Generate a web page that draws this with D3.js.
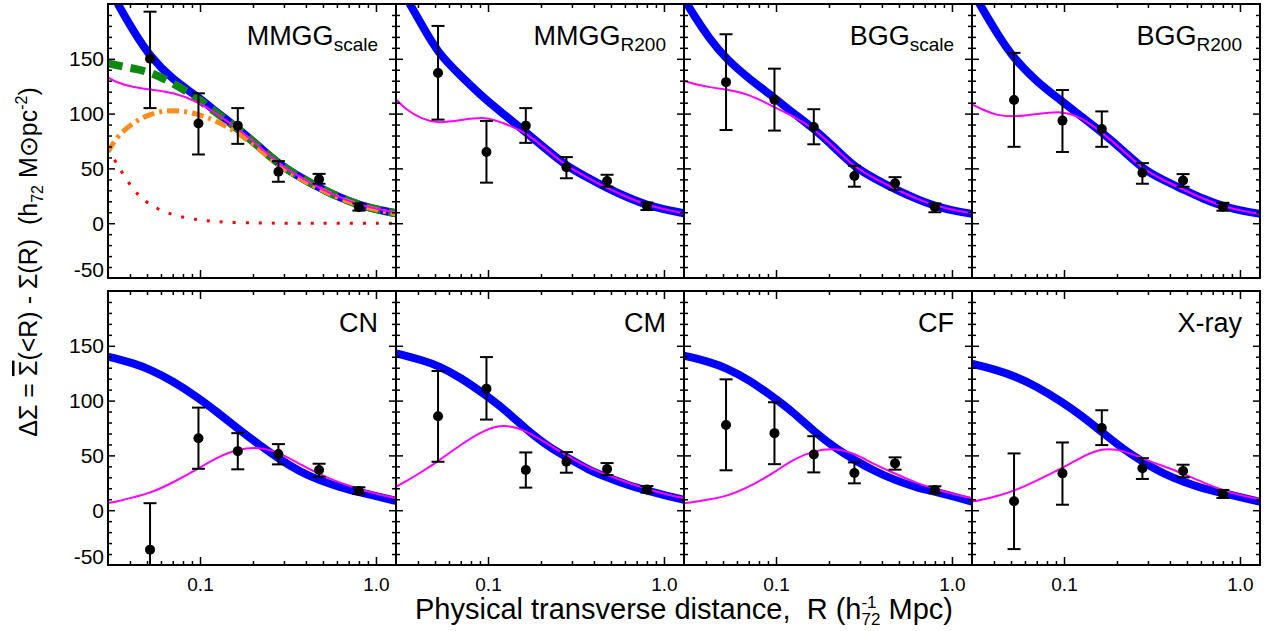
<!DOCTYPE html>
<html><head><meta charset="utf-8">
<script src="https://cdn.jsdelivr.net/npm/d3@7"></script>
<style>
body{margin:0;background:#fff}
svg{display:block}
text{font-family:"Liberation Sans",Arial,Helvetica,sans-serif;fill:#000}
</style>
</head><body>
<svg id="chart" width="1273" height="631"></svg>
<script>
// ---------------- data ----------------
const panelNames = ["MMGG","MMGG","BGG","BGG","CN","CM","CF","X-ray"];
const panelSubs  = ["scale","R200","scale","R200","","","",""];

// radii of the measured points (h72^-1 Mpc)
const obsRadius = [0.052, 0.098, 0.164, 0.279, 0.475, 0.80];
// measured Delta Sigma per panel
const obsValue = [
  [150, 91, 89, 47, 40, 14.5],
  [137, 65, 89, 51, 38.5, 15.7],
  [128.7, 112.7, 87.8, 43, 36.4, 14.5],
  [112.4, 93.6, 86, 46, 39, 15],
  [-36, 65.7, 53.9, 51.2, 36.6, 17.5],
  [85.7, 110.9, 36.6, 44.2, 37.5, 19],
  [77.8, 70.3, 50.9, 33.9, 42.7, 18.5],
  [8.2, 33.6, 75, 38.2, 35.7, 14.8]
];
const obsHigh = [
  [193, 118.5, 105, 56.6, 45, 18],
  [180, 93.3, 105, 60.3, 44.2, 18.8],
  [172.4, 141, 104, 52.4, 42, 18],
  [155.4, 121.5, 102, 54.8, 44.8, 18.6],
  [6.4, 93.6, 70.3, 60.3, 42.4, 20.9],
  [127, 139.7, 52.7, 53, 43, 22],
  [119.4, 98.5, 67.5, 43.6, 48.2, 21.8],
  [51.8, 61.8, 91.2, 47.5, 41.5, 18.5]
];
const obsLow = [
  [105, 62.7, 72.4, 37.8, 36, 11.5],
  [94.5, 37, 73.3, 41, 33.3, 12],
  [85, 84.5, 72, 33.3, 30.5, 10],
  [69.7, 65, 69.7, 36, 33.3, 11.4],
  [-78, 37.8, 37.3, 41.8, 30.6, 14.8],
  [44.2, 82.7, 20.6, 34.2, 32, 16],
  [36.4, 42, 34.5, 24.5, 37, 15.5],
  [-35.5, 5, 59.4, 28.5, 30, 11.2]
];

const curveRadius = [0.03, 0.034, 0.042, 0.052, 0.07, 0.097, 0.124, 0.164, 0.22, 0.28, 0.37, 0.474, 0.62, 0.82, 1.05, 1.3];
// thick blue fits
const blueFit = [
  [218, 200, 175, 152, 131, 115.5, 101.5, 86.5, 69, 54, 42, 32.5, 23.5, 16, 12, 9],
  [222, 207, 181, 155, 134.5, 112.5, 99, 83, 66, 52, 41.5, 32, 23.5, 15.8, 12, 9],
  [205, 190, 168, 150, 132, 115, 101, 86.5, 67.5, 51, 40, 31, 22.5, 15, 11, 8.5],
  [212, 197, 172, 150, 129, 111.5, 98, 83, 65.5, 49.5, 39, 31, 22, 15, 11, 8.5],
  [140, 138, 134, 128.5, 118, 103, 90, 74.5, 59, 47, 35, 27.5, 21, 16, 12, 8.5],
  [143, 141, 137, 132, 121, 105, 92, 74, 58, 48.5, 37, 30, 23, 17.5, 13, 9.4],
  [141, 139, 135, 130, 119, 103, 90, 72, 56, 45.7, 35, 27.5, 21, 16.5, 12, 7.8],
  [133.6, 131.5, 127.5, 122.5, 113, 99, 87, 71.5, 55, 44.2, 33, 26, 19.5, 15.3, 11, 7.8]
];
// thin magenta fits
const magentaFit = [
  [133, 128, 124, 122, 119.5, 111, 100, 86.5, 69.5, 54, 42, 32.5, 23.5, 16.5, 12.5, 9.5],
  [113, 104, 95, 91, 94, 97.5, 91, 83, 66, 52, 41.5, 32, 23.5, 16, 12, 9],
  [130, 127, 124, 122, 118, 106, 98, 86.5, 67.5, 51, 40, 31.5, 22.5, 15.5, 11.5, 9],
  [108.5, 104, 98, 97, 99.5, 102.5, 97, 83, 65.5, 49.5, 39, 31, 22, 15, 11, 8.5],
  [6.5, 8, 12, 15.5, 25, 37.5, 48, 56, 57.5, 53, 42, 33, 25, 19, 14, 11],
  [21.5, 26, 35, 44.5, 60, 74, 78.5, 73, 60, 50, 39, 32.5, 25, 19, 14, 11],
  [6.4, 7.5, 10, 12.5, 21, 34, 46, 54.5, 56.5, 51.8, 41, 33.6, 25, 19, 14, 11],
  [7.8, 9.5, 13, 17.5, 27, 38, 48, 57, 54.5, 47, 40, 33.5, 25, 17.5, 13, 10]
];
// extra components in the first panel
const greenDashed   = [146, 144, 141, 138, 128, 114, 100.5, 86.5, 69, 54, 42, 32.5, 23.5, 16, 12, 9];
const orangeDashDot = [65, 80, 92, 100, 104, 100, 93, 83, 67, 52, 40.5, 31.5, 22.5, 15.5, 11.5, 8.5];
const redDotted     = [68, 53, 29, 16, 7, 3, 1.2, 0.5, 0.2, 0, 0, 0, 0, 0, 0, 0];

const xTickLabels = [0.1, 1.0];
const xMinorTicks = [0.04,0.05,0.06,0.07,0.08,0.09,0.2,0.3,0.4,0.5,0.6,0.7,0.8,0.9];
const yTickLabels = [-50, 0, 50, 100, 150];
const yMajorTicks = [0, 50, 100, 150];
const yMinorTicks = [-40,-30,-20,-10,10,20,30,40,60,70,80,90,110,120,130,140,160,170,180,190];

// ---------------- layout ----------------
const W = 288, H = 274;
const colX = [108, 396, 684, 972];
const rowY = [4, 291];

const svg = d3.select("#chart");
const x = d3.scaleLog().domain([0.03, 1.3]).range([0, W]);
const y = d3.scaleLinear().domain([-50, 200]).range([H, 0]);

const line = d3.line()
  .x((d, j) => x(curveRadius[j]))
  .y(d => y(d))
  .curve(d3.curveBasis);

const defs = svg.append("defs");
defs.append("clipPath").attr("id", "clip")
  .append("rect").attr("x", 0).attr("y", 0).attr("width", W).attr("height", H);

function tickAxis(g, axis) {
  g.call(axis);
  g.select(".domain").remove();
  g.selectAll(".tick line").attr("stroke", "#000").attr("stroke-width", 1.5);
  g.selectAll(".tick text").remove();
}

panelNames.forEach((name, i) => {
  const col = i % 4, row = Math.floor(i / 4);
  const g = svg.append("g").attr("transform", `translate(${colX[col]},${rowY[row]})`);
  const plot = g.append("g").attr("clip-path", "url(#clip)");

  // blue fit
  plot.append("path").datum(blueFit[i]).attr("d", line)
    .attr("fill", "none").attr("stroke", "#0000ff").attr("stroke-width", 8);

  if (i === 0) {
    plot.append("path").datum(redDotted).attr("d", line)
      .attr("fill", "none").attr("stroke", "#ff0000").attr("stroke-width", 3)
      .attr("stroke-dasharray", "3,10");
    plot.append("path").datum(greenDashed).attr("d", line)
      .attr("fill", "none").attr("stroke", "#0d8a0d").attr("stroke-width", 8)
      .attr("stroke-dasharray", "15,8");
    plot.append("path").datum(orangeDashDot).attr("d", line)
      .attr("fill", "none").attr("stroke", "#ff8c1a").attr("stroke-width", 5)
      .attr("stroke-dasharray", "12,5,3,5");
  }

  plot.append("path").datum(magentaFit[i]).attr("d", line)
    .attr("fill", "none").attr("stroke", "#ff00ff").attr("stroke-width", 2);

  // error bars
  const eb = plot.append("g").attr("stroke", "#000").attr("stroke-width", 2);
  obsRadius.forEach((r, k) => {
    const cx = x(r);
    eb.append("line").attr("x1", cx).attr("x2", cx)
      .attr("y1", y(obsLow[i][k])).attr("y2", y(obsHigh[i][k]));
    eb.append("line").attr("x1", cx - 6.5).attr("x2", cx + 6.5)
      .attr("y1", y(obsLow[i][k])).attr("y2", y(obsLow[i][k]));
    eb.append("line").attr("x1", cx - 6.5).attr("x2", cx + 6.5)
      .attr("y1", y(obsHigh[i][k])).attr("y2", y(obsHigh[i][k]));
  });
  plot.append("g").selectAll("circle").data(obsValue[i]).join("circle")
    .attr("cx", (d, k) => x(obsRadius[k])).attr("cy", d => y(d))
    .attr("r", 5).attr("fill", "#000");

  // ticks on all four sides, pointing inward
  tickAxis(g.append("g").attr("transform", `translate(0,${H})`),
    d3.axisBottom(x).tickValues(xTickLabels).tickSize(-8).tickFormat(""));
  tickAxis(g.append("g").attr("transform", `translate(0,${H})`),
    d3.axisBottom(x).tickValues(xMinorTicks).tickSize(-4).tickFormat(""));
  tickAxis(g.append("g"),
    d3.axisTop(x).tickValues(xTickLabels).tickSize(-8).tickFormat(""));
  tickAxis(g.append("g"),
    d3.axisTop(x).tickValues(xMinorTicks).tickSize(-4).tickFormat(""));
  tickAxis(g.append("g"),
    d3.axisLeft(y).tickValues(yMajorTicks).tickSize(-7).tickFormat(""));
  tickAxis(g.append("g"),
    d3.axisLeft(y).tickValues(yMinorTicks).tickSize(-4).tickFormat(""));
  tickAxis(g.append("g").attr("transform", `translate(${W},0)`),
    d3.axisRight(y).tickValues(yMajorTicks).tickSize(-7).tickFormat(""));
  tickAxis(g.append("g").attr("transform", `translate(${W},0)`),
    d3.axisRight(y).tickValues(yMinorTicks).tickSize(-4).tickFormat(""));

  // frame
  g.append("rect").attr("x", 0).attr("y", 0).attr("width", W).attr("height", H)
    .attr("fill", "none").attr("stroke", "#000").attr("stroke-width", 2);

  // tick labels
  if (col === 0) {
    const ya = g.append("g").call(d3.axisLeft(y).tickValues(yTickLabels)
      .tickSize(0).tickPadding(4).tickFormat(d => String(d)));
    ya.attr("font-size", null).attr("font-family", null);
    ya.select(".domain").remove();
    ya.selectAll("text").style("font-size", "21px")
      .attr("dy", d => d === -50 ? "-0.05em" : "0.34em");
  }
  if (row === 1) {
    const xa = g.append("g").attr("transform", `translate(0,${H})`)
      .call(d3.axisBottom(x).tickValues(xTickLabels).tickSize(0).tickPadding(13)
        .tickFormat(d3.format(".1f")));
    xa.attr("font-size", null).attr("font-family", null);
    xa.select(".domain").remove();
    xa.selectAll("text").style("font-size", "19px");
  }

  // panel label
  const lab = g.append("text").attr("x", W - 18).attr("y", 41)
    .attr("text-anchor", "end").style("font-size", "27px");
  lab.append("tspan").text(name);
  if (panelSubs[i]) lab.append("tspan").style("font-size", "19px").attr("dy", 6).text(panelSubs[i]);
});

// x-axis title
const xt = svg.append("text").attr("x", 684).attr("y", 619)
  .attr("text-anchor", "middle").style("font-size", "29px").style("white-space", "pre");
xt.append("tspan").text("Physical transverse distance,  R (h");
xt.append("tspan").style("font-size", "17px").attr("dy", -11).text("-1");
xt.append("tspan").style("font-size", "17px").attr("dx", -15).attr("dy", 17).text("72");
xt.append("tspan").attr("dy", -6).text(" Mpc)");

// y-axis title
const yt = svg.append("text").attr("transform", "translate(37,262) rotate(-90)")
  .attr("text-anchor", "middle").style("font-size", "25px").style("white-space", "pre");
yt.append("tspan").text("\u0394\u03A3 = ");
yt.append("tspan").style("text-decoration", "overline").text("\u03A3");
yt.append("tspan").text("(<R) - \u03A3(R)  (h");
yt.append("tspan").style("font-size", "16px").attr("dy", 6).text("72");
yt.append("tspan").attr("dy", -6).text(" M");
yt.append("tspan").text("\u2299");
yt.append("tspan").text("pc");
yt.append("tspan").style("font-size", "16px").attr("dy", -10).text("-2");
yt.append("tspan").attr("dy", 10).text(")");
</script>
</body></html>
